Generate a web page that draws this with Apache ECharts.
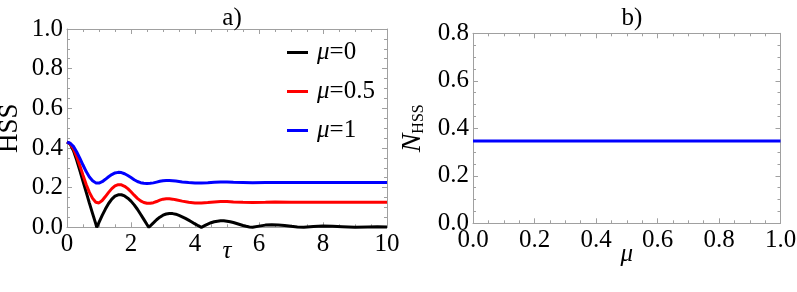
<!DOCTYPE html>
<html>
<head>
<meta charset="utf-8">
<script src="https://cdn.jsdelivr.net/npm/echarts@6/dist/echarts.min.js"></script>
<style>html,body{margin:0;padding:0;background:#fff}#c{width:797px;height:292px}</style>
</head>
<body>
<div id="c"></div>
<script>
// ---- data ----
const seriesNames = ['μ=0', 'μ=0.5', 'μ=1'];
const seriesColors = ['#000000', '#ff0000', '#0000ff'];

const tauK = [0,0.1,0.2,0.3,0.4,0.5,0.6,0.7,0.8,0.9,0.93,
  1.0,1.1,1.2,1.3,1.4,1.5,1.6,1.7,1.8,1.9,2.0,2.1,2.2,2.3,2.4,2.5,2.56,
  2.6,2.7,2.8,2.9,3.0,3.1,3.2,3.3,3.4,3.5,3.6,3.7,3.8,3.9,4.0,4.1,4.2,
  4.3,4.4,4.5,4.6,4.7,4.8,4.9,5.0,5.1,5.2,5.3,5.4,5.5,5.6,5.7,5.8,
  6.0,6.2,6.4,6.6,6.8,7.0,7.2,7.4,7.7,8.0,8.3,8.6,9.0,9.4,9.7,10];
const hssK = [0.430,0.420,0.387,0.340,0.287,0.232,0.177,0.122,0.069,0.017,0,
  0.025,0.060,0.092,0.120,0.142,0.157,0.164,0.164,0.158,0.147,0.132,0.113,0.091,0.066,0.040,0.014,0,
  0.006,0.022,0.038,0.051,0.061,0.067,0.070,0.069,0.066,0.060,0.053,0.045,0.036,0.027,0.017,0.008,0,
  0.008,0.016,0.023,0.028,0.031,0.033,0.033,0.031,0.028,0.024,0.019,0.014,0.009,0.005,0.002,0,
  0.006,0.011,0.013,0.012,0.009,0.005,0.002,0,0.004,0.006,0.005,0.003,0,0.002,0.003,0.002];

const tauRB = [0,0.1,0.2,0.3,0.4,0.5,0.6,0.7,0.8,0.9,0.95,1.0,1.1,1.2,1.3,1.4,1.5,1.6,1.7,1.8,1.9,
  2.0,2.1,2.2,2.3,2.4,2.5,2.6,2.7,2.8,2.9,3.0,3.1,3.2,3.3,3.4,3.6,3.8,4.0,4.2,4.4,4.6,4.8,5.0,5.2,
  5.5,5.8,6.2,6.5,7.0,8.0,9.0,10];
const hssR = [0.430,0.422,0.397,0.358,0.312,0.263,0.216,0.176,0.146,0.126,0.121,0.123,0.135,0.155,0.176,0.195,0.209,0.215,0.214,0.207,0.195,
  0.179,0.162,0.146,0.133,0.125,0.121,0.121,0.124,0.130,0.137,0.142,0.144,0.144,0.142,0.139,0.132,0.126,0.123,0.123,0.125,0.128,0.130,0.130,0.128,
  0.126,0.125,0.126,0.127,0.126,0.126,0.126,0.126];
const hssB = [0.430,0.424,0.408,0.381,0.349,0.314,0.281,0.254,0.235,0.224,0.222,0.223,0.230,0.242,0.255,0.266,0.274,0.277,0.276,0.270,0.261,
  0.251,0.240,0.231,0.225,0.222,0.221,0.222,0.224,0.228,0.232,0.235,0.236,0.236,0.235,0.233,0.229,0.226,0.224,0.224,0.225,0.227,0.228,0.228,0.227,
  0.226,0.225,0.226,0.226,0.226,0.226,0.226,0.226];

const muVals = [0, 0.25, 0.5, 0.75, 1];
const nHss = [0.347, 0.347, 0.347, 0.347, 0.347];

const xTicksA = [0, 2, 4, 6, 8, 10];
const yTicksA = ['0.0','0.2','0.4','0.6','0.8','1.0'];
const xTicksB = ['0.0','0.2','0.4','0.6','0.8','1.0'];
const yTicksB = ['0.0','0.2','0.4','0.6','0.8'];

// ---- chart ----
const FONT = 'Liberation Serif';
const GRAY = '#a0a0a0';
const pairs = (xs, ys) => xs.map((x, i) => [x, ys[i]]);

function axis(opts) {
  const base = {
    type: 'value',
    nameMoveOverlap: false,
    axisLine: { show: true, onZero: false, lineStyle: { color: GRAY, width: 1 } },
    axisTick: { show: true, inside: true, length: 5, lineStyle: { color: GRAY } },
    minorTick: { show: true, splitNumber: 4, length: 3, lineStyle: { color: GRAY } },
    splitLine: { show: false },
    axisLabel: { show: false }
  };
  return Object.assign(base, opts);
}
function lbl(show, fmt, margin) {
  return { show: show, color: '#000', fontFamily: FONT, fontSize: 25, margin: margin, formatter: fmt, showMinLabel: true, showMaxLabel: true };
}

const fmtXA = v => String(xTicksA[Math.round(v / 2)]);
const fmtYA = v => yTicksA[Math.round(v / 0.2)];
const fmtXB = v => xTicksB[Math.round(v / 0.2)];
const fmtYB = v => yTicksB[Math.round(v / 0.2)];

const chart = echarts.init(document.getElementById('c'), null, { renderer: 'canvas' });
chart.setOption({
  animation: false,
  backgroundColor: '#fff',
  title: [
    { text: 'a)', left: 227, top: 1, textAlign: 'center', textStyle: { fontFamily: FONT, fontSize: 25, fontWeight: 'normal', color: '#000' } },
    { text: 'b)', left: 627, top: 1, textAlign: 'center', textStyle: { fontFamily: FONT, fontSize: 25, fontWeight: 'normal', color: '#000' } }
  ],
  grid: [
    { left: 67, top: 29, width: 320, height: 198.3, show: false, containLabel: false, outerBoundsMode: 'none' },
    { left: 473, top: 33.3, width: 307.5, height: 190, show: false, containLabel: false, outerBoundsMode: 'none' }
  ],
  legend: {
    data: seriesNames,
    orient: 'vertical',
    left: 282,
    top: 35,
    icon: 'rect',
    itemWidth: 21,
    itemHeight: 3,
    itemGap: 14,
    textStyle: { fontFamily: FONT, fontSize: 25, lineHeight: 25, color: '#000', padding: [0, 0, 0, 4],
      rich: { i: { fontFamily: FONT, fontSize: 25, lineHeight: 25, fontStyle: 'italic', color: '#000' } } },
    formatter: name => '{i|μ}' + name.slice(1)
  },
  xAxis: [
    axis({ gridIndex: 0, position: 'bottom', min: 0, max: 10, interval: 2, axisLabel: lbl(true, fmtXA, 5),
      name: 'τ', nameLocation: 'middle', nameGap: 12,
      nameTextStyle: { fontFamily: FONT, fontSize: 25, fontStyle: 'italic', color: '#000', verticalAlign: 'top' } }),
    axis({ gridIndex: 0, position: 'top', min: 0, max: 10, interval: 2 }),
    axis({ gridIndex: 1, position: 'bottom', min: 0, max: 1, interval: 0.2, axisLabel: lbl(true, fmtXB, 5),
      name: 'μ', nameLocation: 'middle', nameGap: 19,
      nameTextStyle: { fontFamily: FONT, fontSize: 25, fontStyle: 'italic', color: '#000', verticalAlign: 'top' } }),
    axis({ gridIndex: 1, position: 'top', min: 0, max: 1, interval: 0.2 })
  ],
  yAxis: [
    axis({ gridIndex: 0, position: 'left', min: 0, max: 1, interval: 0.2, axisLabel: lbl(true, fmtYA, 4),
      name: 'HSS', nameLocation: 'middle', nameGap: 44, nameRotate: 90,
      nameTextStyle: { fontFamily: FONT, fontSize: 27, color: '#000' } }),
    axis({ gridIndex: 0, position: 'right', min: 0, max: 1, interval: 0.2 }),
    axis({ gridIndex: 1, position: 'left', min: 0, max: 0.8, interval: 0.2, axisLabel: lbl(true, fmtYB, 4),
      name: '{n|N}{s|HSS}', nameLocation: 'middle', nameGap: 46, nameRotate: 90,
      nameTextStyle: { fontFamily: FONT, fontSize: 26, color: '#000',
        rich: { n: { fontFamily: FONT, fontSize: 28, fontStyle: 'italic', color: '#000' },
                s: { fontFamily: FONT, fontSize: 16, color: '#000', verticalAlign: 'bottom', padding: [8, 0, 0, 0] } } } }),
    axis({ gridIndex: 1, position: 'right', min: 0, max: 0.8, interval: 0.2 })
  ],
  series: [
    { name: seriesNames[0], type: 'line', xAxisIndex: 0, yAxisIndex: 0, data: pairs(tauK, hssK), showSymbol: false, symbol: 'none', clip: false,
      lineStyle: { color: seriesColors[0], width: 3 }, itemStyle: { color: seriesColors[0] }, z: 3 },
    { name: seriesNames[1], type: 'line', xAxisIndex: 0, yAxisIndex: 0, data: pairs(tauRB, hssR), showSymbol: false, symbol: 'none', clip: false,
      lineStyle: { color: seriesColors[1], width: 3 }, itemStyle: { color: seriesColors[1] }, z: 3 },
    { name: seriesNames[2], type: 'line', xAxisIndex: 0, yAxisIndex: 0, data: pairs(tauRB, hssB), showSymbol: false, symbol: 'none', clip: false,
      lineStyle: { color: seriesColors[2], width: 3 }, itemStyle: { color: seriesColors[2] }, z: 3 },
    { name: 'NHSS', type: 'line', xAxisIndex: 2, yAxisIndex: 2, data: pairs(muVals, nHss), showSymbol: false, symbol: 'none',
      lineStyle: { color: '#0000ff', width: 3 }, itemStyle: { color: '#0000ff' } }
  ]
});
</script>
</body>
</html>
